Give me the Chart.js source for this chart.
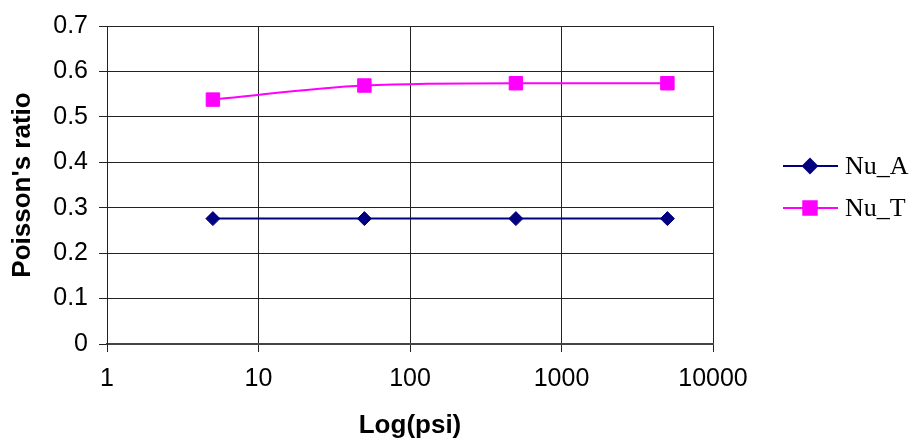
<!DOCTYPE html>
<html>
<head>
<meta charset="utf-8">
<script src="https://cdn.jsdelivr.net/npm/chart.js@4.4.1/dist/chart.umd.min.js"></script>
<style>
  html, body { margin: 0; padding: 0; background: #fff; }
  #wrap { width: 911px; height: 444px; }
</style>
</head>
<body>
<div id="wrap"><canvas id="grafico"></canvas></div>
<script>
// valores
const pressoes = [5, 50, 500, 5000];
const nuA = [0.276, 0.276, 0.276, 0.276];
const nuT = [0.538, 0.569, 0.574, 0.574];
const ticksX = [1, 10, 100, 1000, 10000];
const ticksY = [0, 0.1, 0.2, 0.3, 0.4, 0.5, 0.6, 0.7];

const fonteEixo = { family: "'Liberation Sans', Arial, sans-serif", size: 25 };
const fonteTitulo = { family: "'Liberation Sans', Arial, sans-serif", size: 26, weight: 'bold' };

// legenda desenhada a mao, linha + marcador como no Excel
const legendaLateral = {
    id: 'legendaLateral',
    afterDraw(chart) {
        const ctx = chart.ctx;
        const x0 = chart.chartArea.right + 70;
        const linhas = [166, 208];
        chart.data.datasets.forEach((ds, i) => {
            const y = linhas[i];
            ctx.save();
            ctx.strokeStyle = ds.borderColor;
            ctx.lineWidth = 2;
            ctx.beginPath();
            ctx.moveTo(x0, y);
            ctx.lineTo(x0 + 55, y);
            ctx.stroke();
            ctx.fillStyle = ds.backgroundColor;
            Chart.helpers.drawPoint(ctx, {
                pointStyle: ds.pointStyle,
                radius: ds.pointRadius,
                borderWidth: 1
            }, x0 + 27, y);
            ctx.fillStyle = '#000';
            ctx.font = "26px 'Liberation Serif', 'Times New Roman', serif";
            ctx.textBaseline = 'middle';
            ctx.fillText(ds.label, x0 + 62, y + 1);
            ctx.restore();
        });
    }
};

const canvas = document.getElementById('grafico');

new Chart(canvas, {
    type: 'line',
    data: {
        datasets: [{
            label: 'Nu_A',
            data: pressoes.map((p, i) => ({ x: p, y: nuA[i] })),
            borderColor: '#000080',
            backgroundColor: '#000080',
            borderWidth: 2,
            pointStyle: 'rectRot',
            pointRadius: 7,
            pointBorderWidth: 1
        }, {
            label: 'Nu_T',
            data: pressoes.map((p, i) => ({ x: p, y: nuT[i] })),
            borderColor: '#FF00FF',
            backgroundColor: '#FF00FF',
            borderWidth: 2,
            pointStyle: 'rect',
            pointRadius: 9.5,
            pointBorderWidth: 1,
            cubicInterpolationMode: 'monotone'
        }]
    },
    options: {
        responsive: true,
        maintainAspectRatio: false,
        animation: false,
        layout: { padding: { left: 0, right: 198, top: 24, bottom: 0 } },
        scales: {
            x: {
                type: 'logarithmic',
                min: 1,
                max: 10000,
                afterBuildTicks: (scale) => { scale.ticks = ticksX.map(v => ({ value: v })); },
                afterFit: (scale) => { scale.height = 100; },
                ticks: {
                    color: '#000',
                    font: fonteEixo,
                    padding: 12,
                    maxRotation: 0,
                    callback: (v) => String(v)
                },
                grid: { color: '#222', lineWidth: 1, tickLength: 8 },
                border: { color: '#444', width: 2 },
                title: {
                    display: true,
                    text: 'Log(psi)',
                    color: '#000',
                    font: fonteTitulo,
                    padding: { top: 0, bottom: 3 }
                }
            },
            y: {
                min: 0,
                max: 0.7,
                afterBuildTicks: (scale) => { scale.ticks = ticksY.map(v => ({ value: v })); },
                afterFit: (scale) => { scale.width = 107; },
                ticks: {
                    color: '#000',
                    font: fonteEixo,
                    padding: 11,
                    callback: (v) => String(Math.round(v * 10) / 10)
                },
                grid: { color: '#222', lineWidth: 1, tickLength: 8 },
                border: { color: '#222', width: 1 },
                title: {
                    display: true,
                    text: "Poisson's ratio",
                    color: '#000',
                    font: fonteTitulo,
                    padding: { top: 7, bottom: 0 }
                }
            }
        },
        plugins: {
            legend: { display: false },
            tooltip: { enabled: false }
        }
    },
    plugins: [legendaLateral]
});
</script>
</body>
</html>
